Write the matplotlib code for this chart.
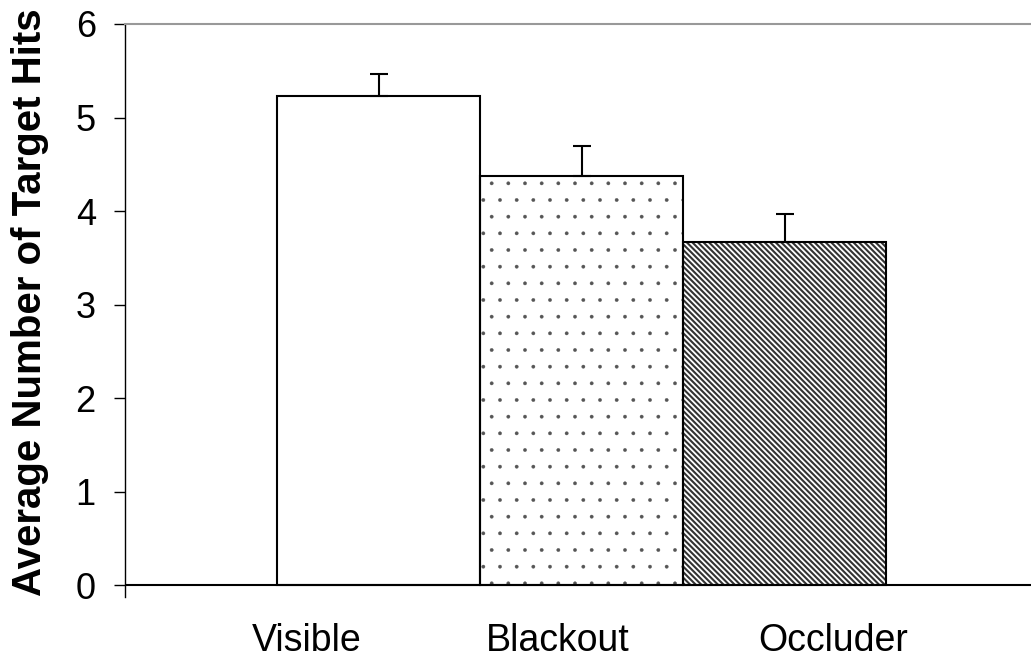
import matplotlib
matplotlib.use('Agg')
import matplotlib.pyplot as plt

# ---- data ----
categories = ['Visible', 'Blackout', 'Occluder']
means = [5.23, 4.37, 3.67]
errors = [0.235, 0.32, 0.30]
yticks = [0, 1, 2, 3, 4, 5, 6]
ylabel = 'Average Number of Target Hits'

# ---- layout / style ----
label_offsets = [-0.352, -0.116, 0.239]   # label centre offset from bar centre (bar widths)
hatches = ['', '.', '\\' * 6]
hatch_colors = ['white', '#555555', '#333333']
hatch_lw = [0.5, 0.25, 1.5]

plt.rcParams['font.family'] = ['Liberation Sans', 'DejaVu Sans']

W, H = 1031, 666
fig = plt.figure(figsize=(W / 100, H / 100), dpi=100)
ax = fig.add_axes([125 / W, (H - 597) / H, (W - 125) / W, (597 - 24) / H])

x = list(range(len(categories)))

# hatch layer (per bar, so each can have its own hatch colour / width)
for xi, m, h, hc, lw in zip(x, means, hatches, hatch_colors, hatch_lw):
    with plt.rc_context({'hatch.linewidth': lw}):
        b = ax.bar([xi], [m], width=1.0, color='white', edgecolor=hc,
                   linewidth=0, hatch=h if h else None, zorder=2)
        for p in b:
            if hasattr(p, 'set_hatch_linewidth'):
                p.set_hatch_linewidth(lw)

# outline layer
ax.bar(x, means, width=1.0, fill=False, edgecolor='black', linewidth=1.5, zorder=3)

ax.errorbar(x, means, yerr=[[0] * len(means), errors], fmt='none',
            ecolor='black', elinewidth=1.5, capsize=6.5, capthick=1.5, zorder=4)

ax.axhline(0, color='black', linewidth=1.5, zorder=5)

ax.set_xlim(-1.249, 3.214)
ax.set_ylim(-0.128, 6)
ax.set_yticks(yticks)
ax.set_yticklabels([str(t) for t in yticks])
ax.tick_params(axis='y', length=8, width=1, direction='out', pad=13,
               labelsize=26, colors='black')

ax.set_xticks([xi + o for xi, o in zip(x, label_offsets)])
ax.set_xticklabels(categories)
ax.tick_params(axis='x', length=0, pad=19, labelsize=27)

for s in ['right', 'bottom']:
    ax.spines[s].set_visible(False)
ax.spines['top'].set_color('#999999')
ax.spines['top'].set_linewidth(1.5)
ax.spines['left'].set_color('black')
ax.spines['left'].set_linewidth(1.0)

fig.text(30 / W, 1 - 302 / H, ylabel, rotation=90, ha='center', va='center',
         fontsize=29, fontweight='bold')

fig.savefig('out.png', dpi=100)
